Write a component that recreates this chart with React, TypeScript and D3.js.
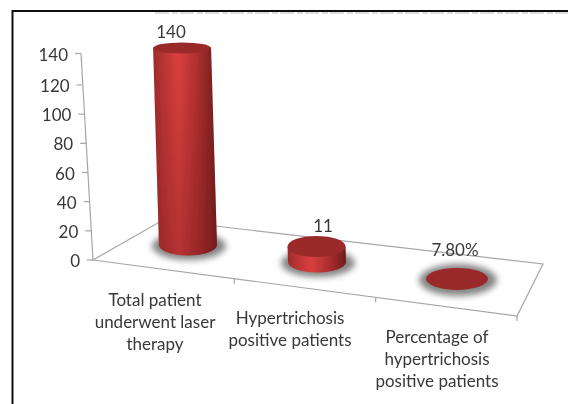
import React from "react";
import * as d3 from "d3";

const categories = [["Total patient", "underwent laser", "therapy"], ["Hypertrichosis", "positive patients"], ["Percentage of", "hypertrichosis", "positive patients"]];
const values = [140, 11, 0.078];
const valueLabels = ["140", "11", "7.80%"];
const yTicks = [0, 20, 40, 60, 80, 100, 120, 140];
const font = "Lato, 'Open Sans', sans-serif";
const textColor = "#383838";

// projected floor
const FL: [number, number] = [93, 260];
const FR: [number, number] = [517, 316];
const BR: [number, number] = [543, 264];
const BL: [number, number] = [163, 220];

const axisX = d3.scaleLinear().domain([0, 140]).range([93, 81]);
const axisY = d3.scaleLinear().domain([0, 120, 140]).range([260, 85, 53.5]);
const catX = d3.scaleLinear().domain([0, 1, 2]).range([188, 317, 457]);
const catBaseY = d3.scaleLinear().domain([0, 1, 2]).range([245, 262, 279]);
const heightPx = d3.scaleLinear().domain([0, 140]).range([0, 197]);
const frontX = d3.scaleLinear().domain([0, 3]).range([FL[0], FR[0]]);
const frontY = d3.scaleLinear().domain([0, 3]).range([FL[1], FR[1]]);
const labelX = [155, 290, 437];
const labelY = [306, 324, 343];
const valueX = [171, 323, 455];
const valueY = [38, 232, 256];
const shadowRy = [14, 14, 16];
const radii = [29, 29, 31];

function Cyl({ i }: { i: number }) {
  const v = values[i];
  const h = heightPx(v);
  const rx = radii[i];
  const cx = catX(i);
  const by = catBaseY(i);
  const topCx = cx - h * 0.03;
  const topY = by - h;
  const baseRy = 10.5;
  const topRy = d3.scaleLinear().domain([0, 197]).range([11, 5.5])(h);
  const path = `M${cx - rx},${by} A${rx},${baseRy} 0 0 0 ${cx + rx},${by} L${topCx + rx},${topY} L${topCx - rx},${topY} Z`;
  return (
    <g>
      <ellipse cx={cx + 1} cy={by + 1} rx={rx + 8} ry={shadowRy[i]} fill="#666" opacity={0.8} filter="url(#sh)" />
      {h > 1 && <path d={path} fill="url(#cyl)" />}
      {h > 1 && <path d={path} fill="url(#fade)" opacity={h / 197} />}
      <ellipse cx={topCx} cy={topY} rx={rx} ry={topRy} fill="#9a2c2c" />
      <text x={valueX[i]} y={valueY[i]} textAnchor="middle" fontFamily={font} fontSize={17} fill={textColor}>{valueLabels[i]}</text>
    </g>
  );
}

export default function App() {
  return (
    <svg width={568} height={404} style={{ position: "absolute", left: 0, top: 0, background: "#fff" }}>
      <defs>
        <linearGradient id="cyl" x1="0" x2="1" y1="0" y2="0">
          <stop offset="0" stopColor="#9e2b2b" />
          <stop offset="0.15" stopColor="#b83434" />
          <stop offset="0.4" stopColor="#dc4040" />
          <stop offset="0.72" stopColor="#aa2e2e" />
          <stop offset="1" stopColor="#6d1c1c" />
        </linearGradient>
        <linearGradient id="fade" x1="0" x2="0" y1="0" y2="1">
          <stop offset="0" stopColor="#7a1c1c" stopOpacity={0} />
          <stop offset="1" stopColor="#7a1c1c" stopOpacity={0.4} />
        </linearGradient>
        <filter id="sh" x="-30%" y="-50%" width="160%" height="200%"><feGaussianBlur stdDeviation="3" /></filter>
        <filter id="soft" x="0" y="0" width="100%" height="100%"><feGaussianBlur stdDeviation="0.45" /></filter>
      </defs>
      <g filter="url(#soft)">
        <rect x={0} y={0} width={568} height={404} fill="#fff" />
        <path d="M12.5,404 V11 H568" fill="none" stroke="#111" strokeWidth={2} />
        <path d="M155,13 H568" fill="none" stroke="#bbb" strokeWidth={1} strokeDasharray="14 3 6 2" />
        <path d={`M${FL} L${FR} L${BR} L${BL} Z`} fill="#fff" stroke="#a6a6a6" strokeWidth={1.2} />
        <line x1={axisX(0)} y1={axisY(0)} x2={axisX(140)} y2={axisY(140)} stroke="#a6a6a6" strokeWidth={1.2} />
        {yTicks.map((t) => (
          <g key={t}>
            <line x1={axisX(t) - 6} x2={axisX(t)} y1={axisY(t)} y2={axisY(t)} stroke="#a6a6a6" strokeWidth={1.2} />
            <text x={axisX(t) - 13} y={axisY(t) + 7} textAnchor="end" fontFamily={font} fontSize={17} fill={textColor}>{t}</text>
          </g>
        ))}
        {[1, 2, 3].map((k) => (
          <line key={k} x1={frontX(k)} x2={frontX(k)} y1={frontY(k)} y2={frontY(k) + 5} stroke="#a6a6a6" strokeWidth={1.2} />
        ))}
        {values.map((_, i) => <Cyl key={i} i={i} />)}
        {categories.map((lines, i) => (
          <text key={i} textAnchor="middle" fontFamily={font} fontSize={17} fill={textColor}>
            {lines.map((l, j) => <tspan key={j} x={labelX[i]} y={labelY[i] + j * 22}>{l}</tspan>)}
          </text>
        ))}
      </g>
    </svg>
  );
}
